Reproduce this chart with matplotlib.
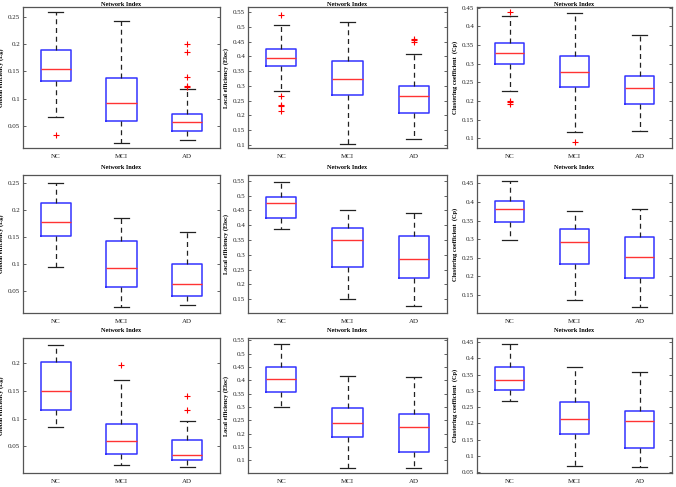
import numpy as np
import matplotlib.pyplot as plt
from matplotlib.ticker import MultipleLocator, FuncFormatter

## Data: per group [lower whisker, Q1, median, Q3, upper whisker]
groups = ["NC", "MCI", "AD"]

eg_a = [[0.066, 0.132, 0.155, 0.190, 0.258],
        [0.019, 0.059, 0.092, 0.139, 0.242],
        [0.025, 0.042, 0.057, 0.072, 0.118]]
eg_a_out = [[0.033], [], [0.201, 0.186, 0.140, 0.124, 0.121]]

eloc_a = [[0.282, 0.366, 0.394, 0.425, 0.506],
          [0.104, 0.268, 0.322, 0.384, 0.516],
          [0.120, 0.209, 0.265, 0.299, 0.410]]
eloc_a_out = [[0.540, 0.265, 0.234, 0.230, 0.216], [], [0.460, 0.455, 0.448]]

cp_a = [[0.228, 0.300, 0.329, 0.355, 0.429],
        [0.116, 0.237, 0.278, 0.321, 0.436],
        [0.119, 0.191, 0.236, 0.268, 0.376]]
cp_a_out = [[0.439, 0.200, 0.196, 0.192], [0.089], []]

eg_b = [[0.095, 0.152, 0.178, 0.213, 0.250],
        [0.021, 0.057, 0.093, 0.142, 0.186],
        [0.024, 0.040, 0.063, 0.099, 0.159]]
eg_b_out = [[], [], []]

eloc_b = [[0.388, 0.423, 0.474, 0.496, 0.547],
          [0.151, 0.259, 0.351, 0.391, 0.450],
          [0.125, 0.221, 0.285, 0.364, 0.440]]
eloc_b_out = [[], [], []]

cp_b = [[0.299, 0.346, 0.380, 0.403, 0.455],
        [0.136, 0.233, 0.292, 0.327, 0.375],
        [0.119, 0.197, 0.252, 0.306, 0.382]]
cp_b_out = [[], [], []]

eg_c = [[0.085, 0.115, 0.149, 0.201, 0.233],
        [0.016, 0.036, 0.059, 0.091, 0.169],
        [0.013, 0.025, 0.034, 0.061, 0.095]]
eg_c_out = [[], [0.197], [0.141, 0.116]]

eloc_c = [[0.300, 0.355, 0.404, 0.451, 0.536],
          [0.071, 0.188, 0.240, 0.298, 0.415],
          [0.071, 0.131, 0.227, 0.274, 0.413]]
eloc_c_out = [[], [], []]

cp_c = [[0.268, 0.302, 0.333, 0.373, 0.444],
        [0.071, 0.169, 0.215, 0.267, 0.372],
        [0.065, 0.126, 0.206, 0.238, 0.357]]
cp_c_out = [[], [], []]

ylabels = ["Global efficiency (Eg)", "Local efficiency (Eloc)", "Clustering coefficient  (Cp)"]

panels = [
    (eg_a, eg_a_out, 0), (eloc_a, eloc_a_out, 1), (cp_a, cp_a_out, 2),
    (eg_b, eg_b_out, 0), (eloc_b, eloc_b_out, 1), (cp_b, cp_b_out, 2),
    (eg_c, eg_c_out, 0), (eloc_c, eloc_c_out, 1), (cp_c, cp_c_out, 2),
]

## Layout (pixels in a 676x487 figure)
W, H = 676, 487
cols = [(23, 220), (248, 447), (477, 672)]
rows = [(7, 148), (175, 313), (338, 473)]
ylims = [(0.010, 0.268), (0.089, 0.568), (0.074, 0.452),
         (0.009, 0.265), (0.103, 0.570), (0.102, 0.472),
         (0.002, 0.245), (0.053, 0.559), (0.048, 0.462)]

plt.rcParams['font.family'] = ['Liberation Serif', 'DejaVu Serif']

fig = plt.figure(figsize=(W / 100, H / 100), dpi=100)

fmt = FuncFormatter(lambda v, pos: f"{v:g}")

for i, (stats, outs, kind) in enumerate(panels):
    top, bot = rows[i // 3]
    left, right = cols[i % 3]
    ax = fig.add_axes([left / W, 1 - bot / H, (right - left) / W, (bot - top) / H])

    bxp_stats = []
    for g, s, o in zip(groups, stats, outs):
        bxp_stats.append(dict(label=g, whislo=s[0], q1=s[1], med=s[2],
                              q3=s[3], whishi=s[4], fliers=o))

    ax.bxp(bxp_stats, positions=[1, 2, 3], widths=0.46,
           boxprops=dict(color='#3333ff', linewidth=1.1),
           medianprops=dict(color='#ff3333', linewidth=1.0),
           whiskerprops=dict(color='#222222', linewidth=0.9, linestyle=(0, (4, 3))),
           capprops=dict(color='#222222', linewidth=0.9),
           flierprops=dict(marker='+', markeredgecolor='red', markersize=4,
                           markeredgewidth=0.8, linestyle='none'),
           capwidths=0.23)

    ax.set_xlim(0.5, 3.5)
    ax.set_ylim(*ylims[i])
    ax.yaxis.set_major_locator(MultipleLocator(0.05))
    ax.yaxis.set_major_formatter(fmt)
    ax.tick_params(direction='in', length=2, width=0.5, labelsize=5, pad=2,
                   colors='#222222', right=True, top=False)
    ax.tick_params(axis='x', length=0, pad=4)
    for sp in ax.spines.values():
        sp.set_color('#555555')
        sp.set_linewidth(0.9)

    ax.set_title("Network Index", fontsize=4.5, fontweight='bold',
                 pad=0.8 if i < 3 else 4)
    ax.set_ylabel(ylabels[kind], fontsize=4.5, fontweight='bold')
    ax.yaxis.set_label_coords(-0.095, 0.5)

fig.savefig("out.png", dpi=100)
